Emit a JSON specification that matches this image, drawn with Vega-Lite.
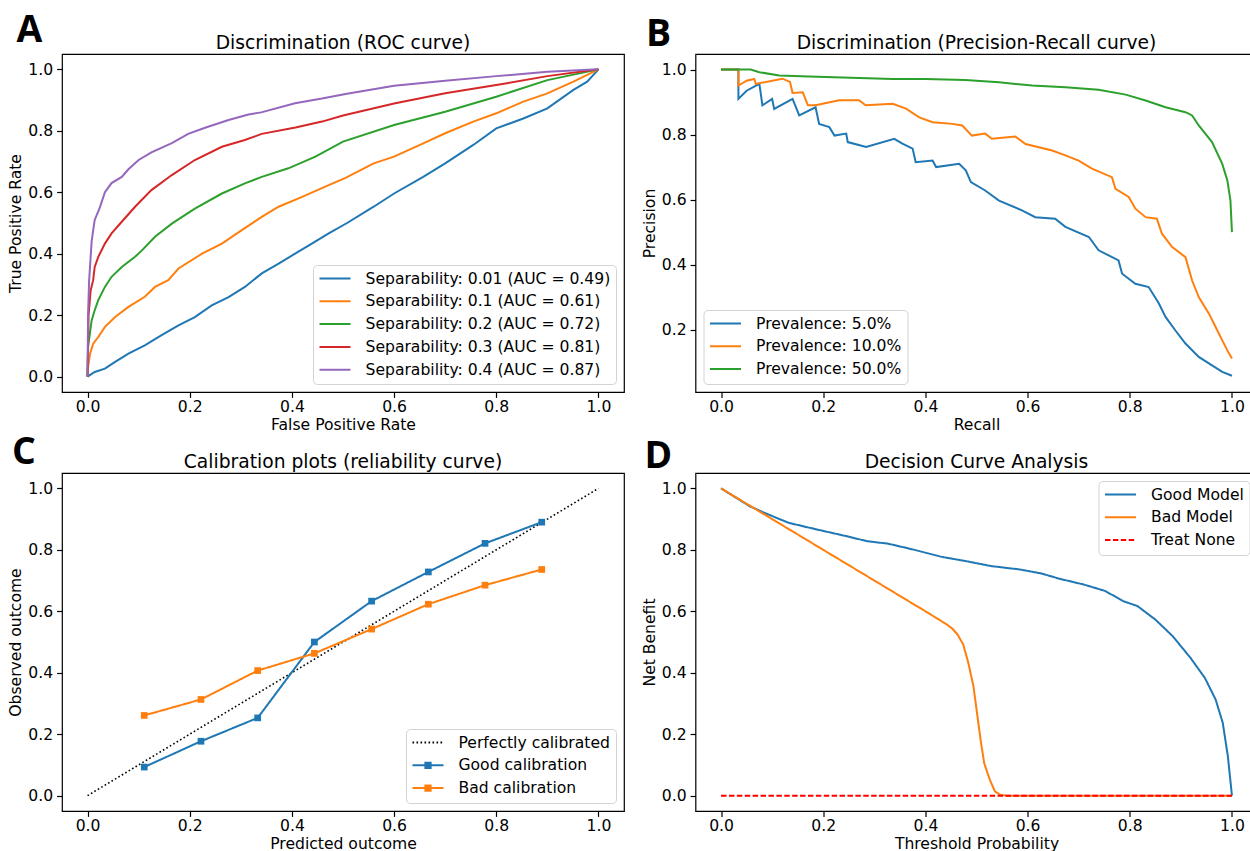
{
"$schema": "https://vega.github.io/schema/vega-lite/v6.json",
"background": "white",
"padding": {"left": 8, "top": 11, "right": 0, "bottom": 0},
"columns": 2,
"spacing": {"row": 81, "column": 71.5},
"bounds": "flush",
"resolve": {"scale": {"color": "independent", "strokeDash": "independent"}, "legend": {"color": "independent", "strokeDash": "independent"}},
"datasets": {
"roc": [
{"s":"Separability: 0.01 (AUC = 0.49)","x":0,"y":0},
{"s":"Separability: 0.01 (AUC = 0.49)","x":0.014,"y":0.015},
{"s":"Separability: 0.01 (AUC = 0.49)","x":0.034,"y":0.026},
{"s":"Separability: 0.01 (AUC = 0.49)","x":0.054,"y":0.048},
{"s":"Separability: 0.01 (AUC = 0.49)","x":0.08,"y":0.075},
{"s":"Separability: 0.01 (AUC = 0.49)","x":0.112,"y":0.102},
{"s":"Separability: 0.01 (AUC = 0.49)","x":0.145,"y":0.135},
{"s":"Separability: 0.01 (AUC = 0.49)","x":0.178,"y":0.167},
{"s":"Separability: 0.01 (AUC = 0.49)","x":0.21,"y":0.194},
{"s":"Separability: 0.01 (AUC = 0.49)","x":0.243,"y":0.232},
{"s":"Separability: 0.01 (AUC = 0.49)","x":0.276,"y":0.259},
{"s":"Separability: 0.01 (AUC = 0.49)","x":0.308,"y":0.292},
{"s":"Separability: 0.01 (AUC = 0.49)","x":0.341,"y":0.336},
{"s":"Separability: 0.01 (AUC = 0.49)","x":0.374,"y":0.368},
{"s":"Separability: 0.01 (AUC = 0.49)","x":0.407,"y":0.401},
{"s":"Separability: 0.01 (AUC = 0.49)","x":0.439,"y":0.433},
{"s":"Separability: 0.01 (AUC = 0.49)","x":0.472,"y":0.466},
{"s":"Separability: 0.01 (AUC = 0.49)","x":0.508,"y":0.5},
{"s":"Separability: 0.01 (AUC = 0.49)","x":0.56,"y":0.553},
{"s":"Separability: 0.01 (AUC = 0.49)","x":0.6,"y":0.596},
{"s":"Separability: 0.01 (AUC = 0.49)","x":0.657,"y":0.65},
{"s":"Separability: 0.01 (AUC = 0.49)","x":0.7,"y":0.694},
{"s":"Separability: 0.01 (AUC = 0.49)","x":0.755,"y":0.754},
{"s":"Separability: 0.01 (AUC = 0.49)","x":0.8,"y":0.808},
{"s":"Separability: 0.01 (AUC = 0.49)","x":0.853,"y":0.84},
{"s":"Separability: 0.01 (AUC = 0.49)","x":0.9,"y":0.873},
{"s":"Separability: 0.01 (AUC = 0.49)","x":0.951,"y":0.933},
{"s":"Separability: 0.01 (AUC = 0.49)","x":0.978,"y":0.96},
{"s":"Separability: 0.01 (AUC = 0.49)","x":1,"y":1},
{"s":"Separability: 0.1 (AUC = 0.61)","x":0,"y":0},
{"s":"Separability: 0.1 (AUC = 0.61)","x":0.001,"y":0.03},
{"s":"Separability: 0.1 (AUC = 0.61)","x":0.005,"y":0.075},
{"s":"Separability: 0.1 (AUC = 0.61)","x":0.011,"y":0.107},
{"s":"Separability: 0.1 (AUC = 0.61)","x":0.021,"y":0.129},
{"s":"Separability: 0.1 (AUC = 0.61)","x":0.034,"y":0.162},
{"s":"Separability: 0.1 (AUC = 0.61)","x":0.054,"y":0.194},
{"s":"Separability: 0.1 (AUC = 0.61)","x":0.08,"y":0.227},
{"s":"Separability: 0.1 (AUC = 0.61)","x":0.112,"y":0.26},
{"s":"Separability: 0.1 (AUC = 0.61)","x":0.132,"y":0.292},
{"s":"Separability: 0.1 (AUC = 0.61)","x":0.158,"y":0.314},
{"s":"Separability: 0.1 (AUC = 0.61)","x":0.178,"y":0.352},
{"s":"Separability: 0.1 (AUC = 0.61)","x":0.224,"y":0.4},
{"s":"Separability: 0.1 (AUC = 0.61)","x":0.263,"y":0.433},
{"s":"Separability: 0.1 (AUC = 0.61)","x":0.302,"y":0.477},
{"s":"Separability: 0.1 (AUC = 0.61)","x":0.341,"y":0.52},
{"s":"Separability: 0.1 (AUC = 0.61)","x":0.374,"y":0.553},
{"s":"Separability: 0.1 (AUC = 0.61)","x":0.42,"y":0.585},
{"s":"Separability: 0.1 (AUC = 0.61)","x":0.472,"y":0.623},
{"s":"Separability: 0.1 (AUC = 0.61)","x":0.505,"y":0.647},
{"s":"Separability: 0.1 (AUC = 0.61)","x":0.56,"y":0.694},
{"s":"Separability: 0.1 (AUC = 0.61)","x":0.6,"y":0.716},
{"s":"Separability: 0.1 (AUC = 0.61)","x":0.657,"y":0.759},
{"s":"Separability: 0.1 (AUC = 0.61)","x":0.7,"y":0.792},
{"s":"Separability: 0.1 (AUC = 0.61)","x":0.755,"y":0.83},
{"s":"Separability: 0.1 (AUC = 0.61)","x":0.8,"y":0.857},
{"s":"Separability: 0.1 (AUC = 0.61)","x":0.853,"y":0.895},
{"s":"Separability: 0.1 (AUC = 0.61)","x":0.9,"y":0.922},
{"s":"Separability: 0.1 (AUC = 0.61)","x":0.951,"y":0.96},
{"s":"Separability: 0.1 (AUC = 0.61)","x":1,"y":1},
{"s":"Separability: 0.2 (AUC = 0.72)","x":0,"y":0},
{"s":"Separability: 0.2 (AUC = 0.72)","x":0.001,"y":0.097},
{"s":"Separability: 0.2 (AUC = 0.72)","x":0.008,"y":0.183},
{"s":"Separability: 0.2 (AUC = 0.72)","x":0.014,"y":0.216},
{"s":"Separability: 0.2 (AUC = 0.72)","x":0.021,"y":0.249},
{"s":"Separability: 0.2 (AUC = 0.72)","x":0.034,"y":0.292},
{"s":"Separability: 0.2 (AUC = 0.72)","x":0.047,"y":0.325},
{"s":"Separability: 0.2 (AUC = 0.72)","x":0.067,"y":0.357},
{"s":"Separability: 0.2 (AUC = 0.72)","x":0.093,"y":0.39},
{"s":"Separability: 0.2 (AUC = 0.72)","x":0.106,"y":0.41},
{"s":"Separability: 0.2 (AUC = 0.72)","x":0.132,"y":0.455},
{"s":"Separability: 0.2 (AUC = 0.72)","x":0.165,"y":0.498},
{"s":"Separability: 0.2 (AUC = 0.72)","x":0.21,"y":0.547},
{"s":"Separability: 0.2 (AUC = 0.72)","x":0.263,"y":0.596},
{"s":"Separability: 0.2 (AUC = 0.72)","x":0.308,"y":0.629},
{"s":"Separability: 0.2 (AUC = 0.72)","x":0.341,"y":0.65},
{"s":"Separability: 0.2 (AUC = 0.72)","x":0.393,"y":0.678},
{"s":"Separability: 0.2 (AUC = 0.72)","x":0.446,"y":0.716},
{"s":"Separability: 0.2 (AUC = 0.72)","x":0.5,"y":0.765},
{"s":"Separability: 0.2 (AUC = 0.72)","x":0.6,"y":0.819},
{"s":"Separability: 0.2 (AUC = 0.72)","x":0.7,"y":0.862},
{"s":"Separability: 0.2 (AUC = 0.72)","x":0.8,"y":0.911},
{"s":"Separability: 0.2 (AUC = 0.72)","x":0.9,"y":0.965},
{"s":"Separability: 0.2 (AUC = 0.72)","x":1,"y":1},
{"s":"Separability: 0.3 (AUC = 0.81)","x":0,"y":0},
{"s":"Separability: 0.3 (AUC = 0.81)","x":0.002,"y":0.2},
{"s":"Separability: 0.3 (AUC = 0.81)","x":0.006,"y":0.28},
{"s":"Separability: 0.3 (AUC = 0.81)","x":0.011,"y":0.314},
{"s":"Separability: 0.3 (AUC = 0.81)","x":0.014,"y":0.357},
{"s":"Separability: 0.3 (AUC = 0.81)","x":0.021,"y":0.39},
{"s":"Separability: 0.3 (AUC = 0.81)","x":0.034,"y":0.433},
{"s":"Separability: 0.3 (AUC = 0.81)","x":0.047,"y":0.466},
{"s":"Separability: 0.3 (AUC = 0.81)","x":0.067,"y":0.504},
{"s":"Separability: 0.3 (AUC = 0.81)","x":0.093,"y":0.553},
{"s":"Separability: 0.3 (AUC = 0.81)","x":0.125,"y":0.607},
{"s":"Separability: 0.3 (AUC = 0.81)","x":0.165,"y":0.656},
{"s":"Separability: 0.3 (AUC = 0.81)","x":0.21,"y":0.705},
{"s":"Separability: 0.3 (AUC = 0.81)","x":0.263,"y":0.748},
{"s":"Separability: 0.3 (AUC = 0.81)","x":0.308,"y":0.77},
{"s":"Separability: 0.3 (AUC = 0.81)","x":0.341,"y":0.79},
{"s":"Separability: 0.3 (AUC = 0.81)","x":0.407,"y":0.811},
{"s":"Separability: 0.3 (AUC = 0.81)","x":0.459,"y":0.83},
{"s":"Separability: 0.3 (AUC = 0.81)","x":0.5,"y":0.85},
{"s":"Separability: 0.3 (AUC = 0.81)","x":0.6,"y":0.889},
{"s":"Separability: 0.3 (AUC = 0.81)","x":0.7,"y":0.922},
{"s":"Separability: 0.3 (AUC = 0.81)","x":0.8,"y":0.949},
{"s":"Separability: 0.3 (AUC = 0.81)","x":0.9,"y":0.978},
{"s":"Separability: 0.3 (AUC = 0.81)","x":1,"y":1},
{"s":"Separability: 0.4 (AUC = 0.87)","x":0,"y":0},
{"s":"Separability: 0.4 (AUC = 0.87)","x":0.001,"y":0.2},
{"s":"Separability: 0.4 (AUC = 0.87)","x":0.003,"y":0.31},
{"s":"Separability: 0.4 (AUC = 0.87)","x":0.008,"y":0.44},
{"s":"Separability: 0.4 (AUC = 0.87)","x":0.014,"y":0.51},
{"s":"Separability: 0.4 (AUC = 0.87)","x":0.024,"y":0.55},
{"s":"Separability: 0.4 (AUC = 0.87)","x":0.034,"y":0.6},
{"s":"Separability: 0.4 (AUC = 0.87)","x":0.047,"y":0.63},
{"s":"Separability: 0.4 (AUC = 0.87)","x":0.067,"y":0.65},
{"s":"Separability: 0.4 (AUC = 0.87)","x":0.08,"y":0.675},
{"s":"Separability: 0.4 (AUC = 0.87)","x":0.1,"y":0.705},
{"s":"Separability: 0.4 (AUC = 0.87)","x":0.125,"y":0.73},
{"s":"Separability: 0.4 (AUC = 0.87)","x":0.165,"y":0.76},
{"s":"Separability: 0.4 (AUC = 0.87)","x":0.197,"y":0.79},
{"s":"Separability: 0.4 (AUC = 0.87)","x":0.23,"y":0.81},
{"s":"Separability: 0.4 (AUC = 0.87)","x":0.276,"y":0.835},
{"s":"Separability: 0.4 (AUC = 0.87)","x":0.315,"y":0.853},
{"s":"Separability: 0.4 (AUC = 0.87)","x":0.34,"y":0.86},
{"s":"Separability: 0.4 (AUC = 0.87)","x":0.406,"y":0.89},
{"s":"Separability: 0.4 (AUC = 0.87)","x":0.459,"y":0.905},
{"s":"Separability: 0.4 (AUC = 0.87)","x":0.505,"y":0.92},
{"s":"Separability: 0.4 (AUC = 0.87)","x":0.6,"y":0.947},
{"s":"Separability: 0.4 (AUC = 0.87)","x":0.7,"y":0.963},
{"s":"Separability: 0.4 (AUC = 0.87)","x":0.8,"y":0.978},
{"s":"Separability: 0.4 (AUC = 0.87)","x":0.9,"y":0.992},
{"s":"Separability: 0.4 (AUC = 0.87)","x":1,"y":1}
],
"pr": [
{"s":"Prevalence: 5.0%","i":0,"x":0,"y":1.0},
{"s":"Prevalence: 5.0%","i":1,"x":0.034,"y":1.0},
{"s":"Prevalence: 5.0%","i":2,"x":0.034,"y":0.91},
{"s":"Prevalence: 5.0%","i":3,"x":0.05,"y":0.935},
{"s":"Prevalence: 5.0%","i":4,"x":0.075,"y":0.956},
{"s":"Prevalence: 5.0%","i":5,"x":0.081,"y":0.89},
{"s":"Prevalence: 5.0%","i":6,"x":0.1,"y":0.91},
{"s":"Prevalence: 5.0%","i":7,"x":0.104,"y":0.879},
{"s":"Prevalence: 5.0%","i":8,"x":0.14,"y":0.91},
{"s":"Prevalence: 5.0%","i":9,"x":0.153,"y":0.859},
{"s":"Prevalence: 5.0%","i":10,"x":0.185,"y":0.884},
{"s":"Prevalence: 5.0%","i":11,"x":0.192,"y":0.833},
{"s":"Prevalence: 5.0%","i":12,"x":0.212,"y":0.823},
{"s":"Prevalence: 5.0%","i":13,"x":0.222,"y":0.797},
{"s":"Prevalence: 5.0%","i":14,"x":0.245,"y":0.803},
{"s":"Prevalence: 5.0%","i":15,"x":0.248,"y":0.777},
{"s":"Prevalence: 5.0%","i":16,"x":0.284,"y":0.762},
{"s":"Prevalence: 5.0%","i":17,"x":0.339,"y":0.787},
{"s":"Prevalence: 5.0%","i":18,"x":0.355,"y":0.772},
{"s":"Prevalence: 5.0%","i":19,"x":0.375,"y":0.757},
{"s":"Prevalence: 5.0%","i":20,"x":0.381,"y":0.715},
{"s":"Prevalence: 5.0%","i":21,"x":0.414,"y":0.72},
{"s":"Prevalence: 5.0%","i":22,"x":0.421,"y":0.7},
{"s":"Prevalence: 5.0%","i":23,"x":0.466,"y":0.71},
{"s":"Prevalence: 5.0%","i":24,"x":0.479,"y":0.69},
{"s":"Prevalence: 5.0%","i":25,"x":0.489,"y":0.654},
{"s":"Prevalence: 5.0%","i":26,"x":0.517,"y":0.628},
{"s":"Prevalence: 5.0%","i":27,"x":0.544,"y":0.597},
{"s":"Prevalence: 5.0%","i":28,"x":0.589,"y":0.567},
{"s":"Prevalence: 5.0%","i":29,"x":0.615,"y":0.546},
{"s":"Prevalence: 5.0%","i":30,"x":0.654,"y":0.541},
{"s":"Prevalence: 5.0%","i":31,"x":0.674,"y":0.516},
{"s":"Prevalence: 5.0%","i":32,"x":0.72,"y":0.485},
{"s":"Prevalence: 5.0%","i":33,"x":0.739,"y":0.444},
{"s":"Prevalence: 5.0%","i":34,"x":0.778,"y":0.413},
{"s":"Prevalence: 5.0%","i":35,"x":0.785,"y":0.372},
{"s":"Prevalence: 5.0%","i":36,"x":0.811,"y":0.341},
{"s":"Prevalence: 5.0%","i":37,"x":0.837,"y":0.331},
{"s":"Prevalence: 5.0%","i":38,"x":0.857,"y":0.28},
{"s":"Prevalence: 5.0%","i":39,"x":0.87,"y":0.239},
{"s":"Prevalence: 5.0%","i":40,"x":0.889,"y":0.198},
{"s":"Prevalence: 5.0%","i":41,"x":0.909,"y":0.157},
{"s":"Prevalence: 5.0%","i":42,"x":0.935,"y":0.116},
{"s":"Prevalence: 5.0%","i":43,"x":0.961,"y":0.09},
{"s":"Prevalence: 5.0%","i":44,"x":0.981,"y":0.07},
{"s":"Prevalence: 5.0%","i":45,"x":1.0,"y":0.058},
{"s":"Prevalence: 10.0%","i":0,"x":0,"y":1.0},
{"s":"Prevalence: 10.0%","i":1,"x":0.034,"y":1.0},
{"s":"Prevalence: 10.0%","i":2,"x":0.034,"y":0.951},
{"s":"Prevalence: 10.0%","i":3,"x":0.05,"y":0.966},
{"s":"Prevalence: 10.0%","i":4,"x":0.065,"y":0.971},
{"s":"Prevalence: 10.0%","i":5,"x":0.068,"y":0.956},
{"s":"Prevalence: 10.0%","i":6,"x":0.12,"y":0.972},
{"s":"Prevalence: 10.0%","i":7,"x":0.135,"y":0.962},
{"s":"Prevalence: 10.0%","i":8,"x":0.14,"y":0.928},
{"s":"Prevalence: 10.0%","i":9,"x":0.16,"y":0.93},
{"s":"Prevalence: 10.0%","i":10,"x":0.17,"y":0.89},
{"s":"Prevalence: 10.0%","i":11,"x":0.185,"y":0.89},
{"s":"Prevalence: 10.0%","i":12,"x":0.231,"y":0.906},
{"s":"Prevalence: 10.0%","i":13,"x":0.27,"y":0.906},
{"s":"Prevalence: 10.0%","i":14,"x":0.283,"y":0.89},
{"s":"Prevalence: 10.0%","i":15,"x":0.336,"y":0.895},
{"s":"Prevalence: 10.0%","i":16,"x":0.362,"y":0.88},
{"s":"Prevalence: 10.0%","i":17,"x":0.388,"y":0.853},
{"s":"Prevalence: 10.0%","i":18,"x":0.414,"y":0.838},
{"s":"Prevalence: 10.0%","i":19,"x":0.453,"y":0.833},
{"s":"Prevalence: 10.0%","i":20,"x":0.472,"y":0.828},
{"s":"Prevalence: 10.0%","i":21,"x":0.491,"y":0.797},
{"s":"Prevalence: 10.0%","i":22,"x":0.517,"y":0.803},
{"s":"Prevalence: 10.0%","i":23,"x":0.53,"y":0.787},
{"s":"Prevalence: 10.0%","i":24,"x":0.576,"y":0.794},
{"s":"Prevalence: 10.0%","i":25,"x":0.596,"y":0.771},
{"s":"Prevalence: 10.0%","i":26,"x":0.648,"y":0.751},
{"s":"Prevalence: 10.0%","i":27,"x":0.674,"y":0.736},
{"s":"Prevalence: 10.0%","i":28,"x":0.7,"y":0.72},
{"s":"Prevalence: 10.0%","i":29,"x":0.726,"y":0.695},
{"s":"Prevalence: 10.0%","i":30,"x":0.765,"y":0.669},
{"s":"Prevalence: 10.0%","i":31,"x":0.772,"y":0.633},
{"s":"Prevalence: 10.0%","i":32,"x":0.798,"y":0.608},
{"s":"Prevalence: 10.0%","i":33,"x":0.811,"y":0.572},
{"s":"Prevalence: 10.0%","i":34,"x":0.831,"y":0.546},
{"s":"Prevalence: 10.0%","i":35,"x":0.853,"y":0.541},
{"s":"Prevalence: 10.0%","i":36,"x":0.863,"y":0.495},
{"s":"Prevalence: 10.0%","i":37,"x":0.883,"y":0.454},
{"s":"Prevalence: 10.0%","i":38,"x":0.909,"y":0.423},
{"s":"Prevalence: 10.0%","i":39,"x":0.922,"y":0.351},
{"s":"Prevalence: 10.0%","i":40,"x":0.935,"y":0.3},
{"s":"Prevalence: 10.0%","i":41,"x":0.955,"y":0.249},
{"s":"Prevalence: 10.0%","i":42,"x":0.968,"y":0.208},
{"s":"Prevalence: 10.0%","i":43,"x":0.981,"y":0.167},
{"s":"Prevalence: 10.0%","i":44,"x":0.991,"y":0.136},
{"s":"Prevalence: 10.0%","i":45,"x":1.0,"y":0.111},
{"s":"Prevalence: 50.0%","i":0,"x":0,"y":1.0},
{"s":"Prevalence: 50.0%","i":1,"x":0.058,"y":1.0},
{"s":"Prevalence: 50.0%","i":2,"x":0.075,"y":0.992},
{"s":"Prevalence: 50.0%","i":3,"x":0.114,"y":0.982},
{"s":"Prevalence: 50.0%","i":4,"x":0.172,"y":0.979},
{"s":"Prevalence: 50.0%","i":5,"x":0.238,"y":0.976},
{"s":"Prevalence: 50.0%","i":6,"x":0.336,"y":0.971},
{"s":"Prevalence: 50.0%","i":7,"x":0.4,"y":0.971},
{"s":"Prevalence: 50.0%","i":8,"x":0.478,"y":0.968},
{"s":"Prevalence: 50.0%","i":9,"x":0.544,"y":0.961},
{"s":"Prevalence: 50.0%","i":10,"x":0.609,"y":0.951},
{"s":"Prevalence: 50.0%","i":11,"x":0.674,"y":0.946},
{"s":"Prevalence: 50.0%","i":12,"x":0.739,"y":0.938},
{"s":"Prevalence: 50.0%","i":13,"x":0.792,"y":0.923},
{"s":"Prevalence: 50.0%","i":14,"x":0.831,"y":0.905},
{"s":"Prevalence: 50.0%","i":15,"x":0.87,"y":0.884},
{"s":"Prevalence: 50.0%","i":16,"x":0.909,"y":0.869},
{"s":"Prevalence: 50.0%","i":17,"x":0.922,"y":0.859},
{"s":"Prevalence: 50.0%","i":18,"x":0.935,"y":0.828},
{"s":"Prevalence: 50.0%","i":19,"x":0.961,"y":0.777},
{"s":"Prevalence: 50.0%","i":20,"x":0.981,"y":0.71},
{"s":"Prevalence: 50.0%","i":21,"x":0.991,"y":0.659},
{"s":"Prevalence: 50.0%","i":22,"x":0.997,"y":0.598},
{"s":"Prevalence: 50.0%","i":23,"x":1.0,"y":0.5}
],
"diag": [
{"s":"Perfectly calibrated","x":0,"y":0},
{"s":"Perfectly calibrated","x":1,"y":1}
],
"cal": [
{"s":"Good calibration","x":0.111,"y":0.093},
{"s":"Good calibration","x":0.222,"y":0.177},
{"s":"Good calibration","x":0.333,"y":0.253},
{"s":"Good calibration","x":0.444,"y":0.5},
{"s":"Good calibration","x":0.556,"y":0.633},
{"s":"Good calibration","x":0.667,"y":0.728},
{"s":"Good calibration","x":0.778,"y":0.821},
{"s":"Good calibration","x":0.889,"y":0.89},
{"s":"Bad calibration","x":0.111,"y":0.261},
{"s":"Bad calibration","x":0.222,"y":0.313},
{"s":"Bad calibration","x":0.333,"y":0.407},
{"s":"Bad calibration","x":0.444,"y":0.463},
{"s":"Bad calibration","x":0.556,"y":0.542},
{"s":"Bad calibration","x":0.667,"y":0.623},
{"s":"Bad calibration","x":0.778,"y":0.685},
{"s":"Bad calibration","x":0.889,"y":0.736}
],
"dca": [
{"s":"Good Model","x":0,"y":1.0},
{"s":"Good Model","x":0.056,"y":0.942},
{"s":"Good Model","x":0.084,"y":0.921},
{"s":"Good Model","x":0.132,"y":0.888},
{"s":"Good Model","x":0.188,"y":0.866},
{"s":"Good Model","x":0.244,"y":0.845},
{"s":"Good Model","x":0.286,"y":0.828},
{"s":"Good Model","x":0.327,"y":0.82},
{"s":"Good Model","x":0.376,"y":0.801},
{"s":"Good Model","x":0.432,"y":0.777},
{"s":"Good Model","x":0.48,"y":0.763},
{"s":"Good Model","x":0.529,"y":0.747},
{"s":"Good Model","x":0.585,"y":0.736},
{"s":"Good Model","x":0.627,"y":0.723},
{"s":"Good Model","x":0.662,"y":0.706},
{"s":"Good Model","x":0.71,"y":0.687},
{"s":"Good Model","x":0.752,"y":0.666},
{"s":"Good Model","x":0.787,"y":0.633},
{"s":"Good Model","x":0.815,"y":0.617},
{"s":"Good Model","x":0.85,"y":0.573},
{"s":"Good Model","x":0.884,"y":0.519},
{"s":"Good Model","x":0.919,"y":0.448},
{"s":"Good Model","x":0.947,"y":0.383},
{"s":"Good Model","x":0.968,"y":0.313},
{"s":"Good Model","x":0.982,"y":0.237},
{"s":"Good Model","x":0.992,"y":0.128},
{"s":"Good Model","x":1.0,"y":0.0},
{"s":"Bad Model","x":0,"y":1.0},
{"s":"Bad Model","x":0.1,"y":0.9},
{"s":"Bad Model","x":0.2,"y":0.8},
{"s":"Bad Model","x":0.3,"y":0.7},
{"s":"Bad Model","x":0.4,"y":0.6},
{"s":"Bad Model","x":0.442,"y":0.557},
{"s":"Bad Model","x":0.453,"y":0.543},
{"s":"Bad Model","x":0.463,"y":0.524},
{"s":"Bad Model","x":0.474,"y":0.492},
{"s":"Bad Model","x":0.484,"y":0.432},
{"s":"Bad Model","x":0.494,"y":0.356},
{"s":"Bad Model","x":0.501,"y":0.269},
{"s":"Bad Model","x":0.508,"y":0.182},
{"s":"Bad Model","x":0.515,"y":0.106},
{"s":"Bad Model","x":0.526,"y":0.052},
{"s":"Bad Model","x":0.536,"y":0.014},
{"s":"Bad Model","x":0.547,"y":0.002},
{"s":"Bad Model","x":0.56,"y":0.0},
{"s":"Bad Model","x":1.0,"y":0.0}
],
"none": [
{"s":"Treat None","x":0,"y":0},
{"s":"Treat None","x":1,"y":0}
]
},
"concat": [
{
"width": 562, "height": 338,
"title": {"text": "Discrimination (ROC curve)", "dy": 49},
"layer": [
{"data": {"name": "roc"},
 "mark": {"type": "line", "strokeWidth": 2},
 "encoding": {
  "x": {"field": "x", "type": "quantitative", "scale": {"domain": [-0.05, 1.05], "nice": false, "zero": false}, "axis": {"title": "False Positive Rate", "values": [0, 0.2, 0.4, 0.6, 0.8, 1], "format": ".1f"}},
  "y": {"field": "y", "type": "quantitative", "scale": {"domain": [-0.05, 1.05], "nice": false, "zero": false}, "axis": {"title": "True Positive Rate", "values": [0, 0.2, 0.4, 0.6, 0.8, 1], "format": ".1f"}},
  "color": {"field": "s", "type": "nominal", "scale": {"domain": ["Separability: 0.01 (AUC = 0.49)", "Separability: 0.1 (AUC = 0.61)", "Separability: 0.2 (AUC = 0.72)", "Separability: 0.3 (AUC = 0.81)", "Separability: 0.4 (AUC = 0.87)"], "range": ["#1f77b4", "#ff7f0e", "#2ca02c", "#d62728", "#9467bd"]}, "legend": {"orient": "bottom-right", "title": null}}
 }},
{"data": {"values": [{"t": "A"}]},
 "mark": {"type": "text", "font": "Open Sans", "fontSize": 37.4, "fontWeight": "bold", "align": "left", "baseline": "alphabetic", "color": "black"},
 "encoding": {"x": {"datum": -0.1389, "type": "quantitative"}, "y": {"datum": 1.0879, "type": "quantitative"}, "text": {"field": "t"}}}
]
},
{
"width": 562, "height": 338,
"title": {"text": "Discrimination (Precision-Recall curve)", "dy": 45.5},
"layer": [
{"data": {"name": "pr"},
 "mark": {"type": "line", "strokeWidth": 2},
 "encoding": {
  "x": {"field": "x", "type": "quantitative", "scale": {"domain": [-0.05, 1.05], "nice": false, "zero": false}, "axis": {"title": "Recall", "values": [0, 0.2, 0.4, 0.6, 0.8, 1], "format": ".1f"}},
  "y": {"field": "y", "type": "quantitative", "scale": {"domain": [0.008, 1.048], "nice": false, "zero": false}, "axis": {"title": "Precision", "values": [0.2, 0.4, 0.6, 0.8, 1], "format": ".1f"}},
  "order": {"field": "i", "type": "quantitative"},
  "color": {"field": "s", "type": "nominal", "scale": {"domain": ["Prevalence: 5.0%", "Prevalence: 10.0%", "Prevalence: 50.0%"], "range": ["#1f77b4", "#ff7f0e", "#2ca02c"]}, "legend": {"orient": "bottom-left", "title": null}}
 }},
{"data": {"values": [{"t": "B"}]},
 "mark": {"type": "text", "font": "Open Sans", "fontSize": 37.4, "fontWeight": "bold", "align": "left", "baseline": "alphabetic", "color": "black"},
 "encoding": {"x": {"datum": -0.1468, "type": "quantitative"}, "y": {"datum": 1.0729, "type": "quantitative"}, "text": {"field": "t"}}}
]
},
{
"width": 562, "height": 338,
"title": {"text": "Calibration plots (reliability curve)", "dy": 46},
"layer": [
{"data": {"name": "diag"},
 "mark": {"type": "line", "strokeWidth": 1.6},
 "encoding": {
  "x": {"field": "x", "type": "quantitative", "scale": {"domain": [-0.05, 1.05], "nice": false, "zero": false}, "axis": {"title": "Predicted outcome", "values": [0, 0.2, 0.4, 0.6, 0.8, 1], "format": ".1f"}},
  "y": {"field": "y", "type": "quantitative", "scale": {"domain": [-0.05, 1.05], "nice": false, "zero": false}, "axis": {"title": "Observed outcome", "values": [0, 0.2, 0.4, 0.6, 0.8, 1], "format": ".1f"}},
  "color": {"field": "s", "type": "nominal", "scale": {"domain": ["Perfectly calibrated", "Good calibration", "Bad calibration"], "range": ["black", "#1f77b4", "#ff7f0e"]}, "legend": {"orient": "bottom-right", "title": null, "encode": {"symbols": {"update": {"shape": {"signal": "datum.value === 'Perfectly calibrated' ? 'stroke' : 'M-1,0H1M-0.17,-0.17H0.17V0.17H-0.17Z'"}, "fill": {"signal": "datum.value === 'Good calibration' ? '#1f77b4' : datum.value === 'Bad calibration' ? '#ff7f0e' : 'transparent'"}}}}}},
  "strokeDash": {"field": "s", "type": "nominal", "scale": {"domain": ["Perfectly calibrated", "Good calibration", "Bad calibration"], "range": [[1.6, 2.4], [1, 0], [1, 0]]}, "legend": {"orient": "bottom-right", "title": null}}
 }},
{"data": {"name": "cal"},
 "mark": {"type": "line", "strokeWidth": 2},
 "encoding": {
  "x": {"field": "x", "type": "quantitative"},
  "y": {"field": "y", "type": "quantitative"},
  "color": {"field": "s", "type": "nominal"},
  "strokeDash": {"field": "s", "type": "nominal"}
 }},
{"data": {"name": "cal"},
 "mark": {"type": "point", "shape": "square", "filled": true, "size": 45, "opacity": 1},
 "encoding": {
  "x": {"field": "x", "type": "quantitative"},
  "y": {"field": "y", "type": "quantitative"},
  "color": {"field": "s", "type": "nominal", "legend": null}
 }},
{"data": {"values": [{"t": "C"}]},
 "mark": {"type": "text", "font": "Open Sans", "fontSize": 37.4, "fontWeight": "bold", "align": "left", "baseline": "alphabetic", "color": "black"},
 "encoding": {"x": {"datum": -0.1477, "type": "quantitative"}, "y": {"datum": 1.0795, "type": "quantitative"}, "text": {"field": "t"}}}
]
},
{
"width": 562, "height": 338,
"title": {"text": "Decision Curve Analysis", "dy": 42},
"layer": [
{"data": {"name": "dca"},
 "mark": {"type": "line", "strokeWidth": 2},
 "encoding": {
  "x": {"field": "x", "type": "quantitative", "scale": {"domain": [-0.05, 1.05], "nice": false, "zero": false}, "axis": {"title": "Threshold Probability", "values": [0, 0.2, 0.4, 0.6, 0.8, 1], "format": ".1f"}},
  "y": {"field": "y", "type": "quantitative", "scale": {"domain": [-0.05, 1.05], "nice": false, "zero": false}, "axis": {"title": "Net Benefit", "values": [0, 0.2, 0.4, 0.6, 0.8, 1], "format": ".1f"}},
  "color": {"field": "s", "type": "nominal", "scale": {"domain": ["Good Model", "Bad Model", "Treat None"], "range": ["#1f77b4", "#ff7f0e", "#ff0000"]}, "legend": {"orient": "top-right", "title": null}},
  "strokeDash": {"field": "s", "type": "nominal", "scale": {"domain": ["Good Model", "Bad Model", "Treat None"], "range": [[1, 0], [1, 0], [5.5, 2.4]]}, "legend": {"orient": "top-right", "title": null}}
 }},
{"data": {"name": "none"},
 "mark": {"type": "line", "strokeWidth": 2},
 "encoding": {
  "x": {"field": "x", "type": "quantitative"},
  "y": {"field": "y", "type": "quantitative"},
  "color": {"field": "s", "type": "nominal"},
  "strokeDash": {"field": "s", "type": "nominal"}
 }},
{"data": {"values": [{"t": "D"}]},
 "mark": {"type": "text", "font": "Open Sans", "fontSize": 37.4, "fontWeight": "bold", "align": "left", "baseline": "alphabetic", "color": "black"},
 "encoding": {"x": {"datum": -0.1497, "type": "quantitative"}, "y": {"datum": 1.0664, "type": "quantitative"}, "text": {"field": "t"}}}
]
}
],
"config": {
 "font": "DejaVu Sans",
 "view": {"stroke": "black", "strokeWidth": 1.2},
 "axis": {"grid": false, "domain": false, "tickColor": "black", "tickSize": 5.4, "tickWidth": 1.2, "labelFont": "DejaVu Sans", "labelFontSize": 15.6, "labelColor": "black", "labelPadding": 2, "labelFlush": false, "labelOverlap": false, "labelBound": false, "titleFont": "DejaVu Sans", "titleFontSize": 15.6, "titleFontWeight": "normal", "titleColor": "black", "titlePadding": 2.5},
 "axisY": {"labelPadding": 4, "titlePadding": 4},
 "legend": {"labelFont": "DejaVu Sans", "labelFontSize": 15.6, "labelColor": "black", "labelLimit": 400, "labelOffset": 14, "symbolType": "stroke", "symbolSize": 961, "symbolStrokeWidth": 2, "clipHeight": 16, "rowPadding": 5.8, "padding": 5.5, "offset": 7.8, "strokeColor": "#d3d3d3", "fillColor": "white", "cornerRadius": 4},
 "title": {"font": "DejaVu Sans", "fontSize": 18.7, "fontWeight": "normal", "color": "black", "baseline": "alphabetic", "offset": 8.3, "anchor": "middle", "frame": "group"}
}
}
